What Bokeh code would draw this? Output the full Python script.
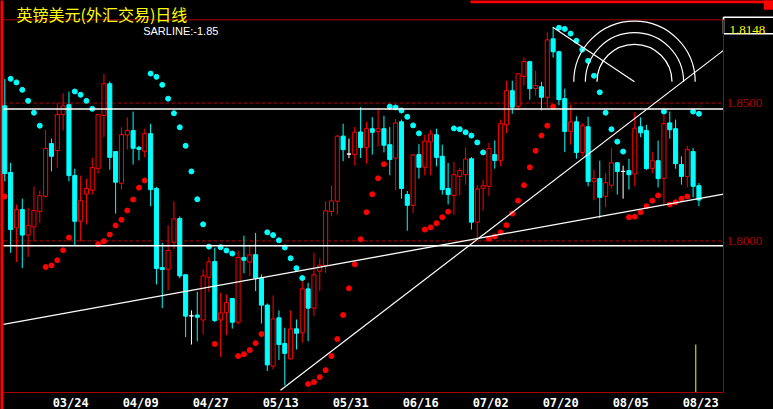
import math
from bokeh.plotting import figure
from bokeh.models import FixedTicker, PrintfTickFormatter, Range1d
from bokeh.core.properties import value
from bokeh.embed import file_html
from bokeh.resources import INLINE

# ---------------- data ----------------
title_text = "英镑美元(外汇交易)日线"
sar_text = "SARLINE:-1.85"
last_price_text = "1.8148"

opens = [1.8490, 1.8248, 1.8047, 1.8114, 1.8021, 1.8051, 1.8107, 1.8162, 1.8353, 1.8328,
         1.8458, 1.8494, 1.8237, 1.8071, 1.8170, 1.8184, 1.8263, 1.8455, 1.8570, 1.8324,
         1.8209, 1.8384, 1.8400, 1.8339, 1.8325, 1.8389, 1.8190, 1.7903, 1.7897, 1.7995,
         1.8081, 1.7877, 1.7728, 1.7731, 1.7713, 1.7868, 1.7925, 1.7713, 1.7739, 1.7791,
         1.7705, 1.7940, 1.7923, 1.7950, 1.7865, 1.7767, 1.7546, 1.7721, 1.7628, 1.7572,
         1.7681, 1.7667, 1.7826, 1.7756, 1.7890, 1.7911, 1.8107, 1.8144, 1.8380, 1.8315,
         1.8313, 1.8395, 1.8339, 1.8407, 1.8397, 1.8407, 1.8349, 1.8300, 1.8432, 1.8168,
         1.8129, 1.8313, 1.8267, 1.8359, 1.8385, 1.8307, 1.8190, 1.8165, 1.8234, 1.8240,
         1.8298, 1.8068, 1.8191, 1.8198, 1.8313, 1.8292, 1.8421, 1.8545, 1.8488, 1.8597,
         1.8650, 1.8553, 1.8559, 1.8521, 1.8733, 1.8686, 1.8516, 1.8397, 1.8432, 1.8321,
         1.8414, 1.8216, 1.8226, 1.8162, 1.8202, 1.8283, 1.8252, 1.8255, 1.8243, 1.8414,
         1.8400, 1.8263, 1.8291, 1.8227, 1.8428, 1.8407, 1.8277, 1.8234, 1.8324, 1.8200]
highs = [1.8588, 1.8283, 1.8132, 1.8153, 1.8120, 1.8198, 1.8182, 1.8403, 1.8371, 1.8500,
         1.8536, 1.8542, 1.8262, 1.8237, 1.8226, 1.8302, 1.8460, 1.8606, 1.8578, 1.8325,
         1.8412, 1.8448, 1.8469, 1.8345, 1.8407, 1.8425, 1.8196, 1.7993, 1.8056, 1.8143,
         1.8089, 1.7880, 1.7748, 1.7816, 1.7896, 1.7942, 1.7975, 1.7812, 1.7806, 1.7793,
         1.7965, 1.8019, 1.7984, 1.8029, 1.7878, 1.7773, 1.7802, 1.7748, 1.7685, 1.7748,
         1.7715, 1.7854, 1.7848, 1.7957, 1.7936, 1.8144, 1.8200, 1.8385, 1.8425, 1.8371,
         1.8413, 1.8485, 1.8432, 1.8449, 1.8476, 1.8454, 1.8413, 1.8442, 1.8440, 1.8181,
         1.8315, 1.8351, 1.8385, 1.8403, 1.8407, 1.8349, 1.8283, 1.8286, 1.8264, 1.8338,
         1.8304, 1.8202, 1.8222, 1.8355, 1.8364, 1.8440, 1.8581, 1.8581, 1.8609, 1.8665,
         1.8653, 1.8617, 1.8577, 1.8757, 1.8775, 1.8690, 1.8552, 1.8494, 1.8452, 1.8428,
         1.8450, 1.8258, 1.8291, 1.8246, 1.8337, 1.8286, 1.8273, 1.8298, 1.8467, 1.8448,
         1.8421, 1.8324, 1.8364, 1.8457, 1.8469, 1.8440, 1.8307, 1.8345, 1.8337, 1.8210]
lows = [1.8216, 1.7957, 1.7923, 1.7902, 1.7942, 1.7999, 1.8065, 1.8156, 1.8252, 1.8264,
        1.8401, 1.8216, 1.7983, 1.7999, 1.8059, 1.8168, 1.8244, 1.8376, 1.8258, 1.8099,
        1.8186, 1.8331, 1.8277, 1.8292, 1.8303, 1.8126, 1.7842, 1.7756, 1.7821, 1.7969,
        1.7864, 1.7651, 1.7624, 1.7636, 1.7661, 1.7814, 1.7705, 1.7579, 1.7658, 1.7682,
        1.7697, 1.7882, 1.7872, 1.7818, 1.7700, 1.7528, 1.7534, 1.7568, 1.7476, 1.7570,
        1.7606, 1.7630, 1.7636, 1.7727, 1.7818, 1.7884, 1.8089, 1.8095, 1.8289, 1.8300,
        1.8274, 1.8301, 1.8280, 1.8313, 1.8343, 1.8321, 1.8238, 1.8184, 1.8153, 1.8037,
        1.8101, 1.8226, 1.8238, 1.8238, 1.8271, 1.8168, 1.8132, 1.8095, 1.8165, 1.8204,
        1.8041, 1.8005, 1.8110, 1.8162, 1.8262, 1.8271, 1.8391, 1.8461, 1.8476, 1.8564,
        1.8512, 1.8527, 1.8473, 1.8482, 1.8665, 1.8492, 1.8322, 1.8349, 1.8298, 1.8307,
        1.8198, 1.8147, 1.8082, 1.8122, 1.8192, 1.8168, 1.8153, 1.8186, 1.8198, 1.8376,
        1.8258, 1.8245, 1.8194, 1.8134, 1.8371, 1.8262, 1.8204, 1.8194, 1.8158, 1.8126]
closes = [1.8244, 1.8041, 1.8114, 1.8021, 1.8056, 1.8110, 1.8164, 1.8335, 1.8307, 1.8458,
          1.8490, 1.8237, 1.8071, 1.8146, 1.8190, 1.8266, 1.8458, 1.8570, 1.8303, 1.8213,
          1.8385, 1.8400, 1.8336, 1.8332, 1.8389, 1.8186, 1.7900, 1.7896, 1.7965, 1.8080,
          1.7873, 1.7727, 1.7728, 1.7723, 1.7873, 1.7924, 1.7711, 1.7739, 1.7777, 1.7705,
          1.7940, 1.7930, 1.7949, 1.7865, 1.7767, 1.7550, 1.7717, 1.7624, 1.7592, 1.7681,
          1.7665, 1.7826, 1.7756, 1.7877, 1.7912, 1.8109, 1.8145, 1.8380, 1.8331, 1.8315,
          1.8395, 1.8339, 1.8407, 1.8394, 1.8407, 1.8347, 1.8295, 1.8428, 1.8190, 1.8129,
          1.8312, 1.8267, 1.8362, 1.8388, 1.8303, 1.8186, 1.8168, 1.8240, 1.8255, 1.8297,
          1.8068, 1.8188, 1.8200, 1.8335, 1.8292, 1.8425, 1.8545, 1.8485, 1.8606, 1.8650,
          1.8552, 1.8563, 1.8521, 1.8729, 1.8686, 1.8512, 1.8397, 1.8432, 1.8321, 1.8418,
          1.8215, 1.8226, 1.8158, 1.8211, 1.8283, 1.8252, 1.8252, 1.8240, 1.8409, 1.8392,
          1.8262, 1.8291, 1.8226, 1.8425, 1.8403, 1.8280, 1.8234, 1.8331, 1.8198, 1.8148]
sar = [1.8161, 1.8588, 1.8575, 1.8548, 1.8508, 1.8465, 1.8418, 1.7905, 1.7911, 1.7930,
       1.7966, 1.8012, 1.8542, 1.8530, 1.8508, 1.8479, 1.7988, 1.7999, 1.8023, 1.8056,
       1.8077, 1.8110, 1.8150, 1.8193, 1.8219, 1.8607, 1.8595, 1.8566, 1.8516, 1.8463,
       1.8412, 1.8345, 1.8252, 1.8151, 1.8060, 1.7979, 1.7626, 1.7977, 1.7965, 1.7954,
       1.7582, 1.7589, 1.7604, 1.7629, 1.7662, 1.8031, 1.8021, 1.8002, 1.7976, 1.7937,
       1.7901, 1.7865, 1.7481, 1.7488, 1.7506, 1.7531, 1.7582, 1.7644, 1.7731, 1.7828,
       1.7915, 1.8006, 1.8104, 1.8169, 1.8227, 1.8278, 1.8487, 1.8484, 1.8473, 1.8450,
       1.8419, 1.8390, 1.8041, 1.8049, 1.8064, 1.8086, 1.8106, 1.8408, 1.8405, 1.8394,
       1.8382, 1.8357, 1.8321, 1.8008, 1.8016, 1.8031, 1.8057, 1.8099, 1.8146, 1.8202,
       1.8267, 1.8327, 1.8382, 1.8418, 1.8487, 1.8773, 1.8769, 1.8752, 1.8726, 1.8694,
       1.8653, 1.8599, 1.8539, 1.8465, 1.8405, 1.8360, 1.8324, 1.8086, 1.8088, 1.8104,
       1.8126, 1.8146, 1.8165, 1.8469, 1.8132, 1.8140, 1.8153, 1.8161, 1.8469, 1.8461]

date_idx = [11, 23, 35, 47, 59, 71, 83, 95, 107, 119]
date_labels = ["03/24", "04/09", "04/27", "05/13", "05/31",
               "06/16", "07/02", "07/20", "08/05", "08/23"]
price_ticks = [1.80, 1.85]

# user-drawn studies (data coordinates: candle index, price)
hline_levels = [1.8478, 1.7982]
support_x = [-0.22, 123.21]
support_y = [1.7697, 1.8170]
steep_x = [47.27, 123.21]
steep_y = [1.7458, 1.8691]
arc_base_x = [93.95, 107.95]
arc_base_y = [1.8775, 1.8577]
arc_fracs = [0.382, 0.5, 0.618]
marker_x = [118.46]
marker_top = [1.7624]

# ---------------- geometry ----------------
W, H = 773, 409
PX_L, PX_R, PX_T, PX_B = 3, 723, 19.3, 392   # price panel box in canvas pixels
X0, X1 = -0.22, 123.21                        # candle index at panel left/right
Y0, Y1 = 1.7450, 1.8802                       # price at panel bottom/top
ux = (X1 - X0) / (PX_R - PX_L)
uy = (Y1 - Y0) / (PX_B - PX_T)


def cx(px):
    return X0 + (px - PX_L) * ux


def cy(py):
    return Y0 + (PX_B - py) * uy


CYAN = "#00FFFF"
RED = "#FF0000"
DKRED = "#A80000"

p = figure(width=W, height=H, output_backend="svg", toolbar_location=None,
           x_range=Range1d(cx(0), cx(W)), y_range=Range1d(cy(H), cy(0)),
           y_axis_location="right",
           background_fill_color="black", border_fill_color="black",
           min_border=0, min_border_left=0, min_border_right=0,
           min_border_top=0, min_border_bottom=0)
p.outline_line_color = None
p.xgrid.visible = False
p.ygrid.visible = False

xticks = [round(i + 0.3, 2) for i in date_idx]
xa = p.xaxis[0]
xa.fixed_location = Y0
xa.bounds = (X0, X1)
xa.ticker = FixedTicker(ticks=xticks)
xa.major_label_overrides = {t: lab for t, lab in zip(xticks, date_labels)}
xa.axis_line_color = DKRED
xa.axis_line_width = 1
xa.major_tick_line_color = None
xa.minor_tick_line_color = None
xa.major_tick_out = 0
xa.major_tick_in = 0
xa.major_label_standoff = 3
xa.major_label_text_color = "white"
xa.major_label_text_font = "DejaVu Sans Mono"
xa.major_label_text_font_style = "bold"
xa.major_label_text_font_size = "12px"

ya = p.yaxis[0]
ya.fixed_location = X1
ya.bounds = (Y0, Y1)
ya.ticker = FixedTicker(ticks=price_ticks)
ya.formatter = PrintfTickFormatter(format="%.4f")
ya.axis_line_color = DKRED
ya.axis_line_width = 1
ya.major_tick_line_color = None
ya.minor_tick_line_color = None
ya.major_tick_out = 0
ya.major_tick_in = 0
ya.major_label_standoff = 3
ya.major_label_text_color = "#B40000"
ya.major_label_text_font = "Liberation Sans Narrow"
ya.major_label_text_font_size = "13px"

# dashed price grid, limited to the price panel
p.segment(x0=[X0] * len(price_ticks), y0=price_ticks, x1=[X1] * len(price_ticks),
          y1=price_ticks, line_color="#B00000", line_width=1, line_dash="4 2")

# ---------------- frame decorations ----------------
p.segment(x0=[X0], y0=[Y1], x1=[X1], y1=[Y1], line_color=DKRED, line_width=1)
p.quad(left=[cx(-2), cx(470), cx(763.3)], right=[cx(2.8), cx(775), cx(775)],
       top=[cy(-2), cy(-2), cy(-2)], bottom=[cy(411), cy(2.7), cy(9.3)],
       fill_color=RED, line_color=None)
p.quad(left=[cx(723)], right=[cx(780)], top=[cy(16.7)], bottom=[cy(33.3)],
       fill_color="black", line_color="white", line_width=1.6)
p.text(x=[cx(729)], y=[cy(29.5)], text=[last_price_text], text_color="yellow",
       text_font=value("Liberation Sans Narrow"), text_font_size=value("13px"),
       text_align="left", text_baseline="alphabetic")
p.text(x=[cx(16)], y=[cy(13.5)], text=[title_text], text_color="yellow",
       text_font=value("Noto Sans CJK SC"), text_font_size=value("16px"),
       text_align="left", text_baseline="alphabetic")
p.text(x=[cx(142.7)], y=[cy(30)], text=[sar_text], text_color="white",
       text_font=value("Liberation Sans"), text_font_size=value("11px"),
       text_align="left", text_baseline="alphabetic")

# ---------------- candles ----------------
xs = list(range(len(opens)))
body_top = [max(o, c) for o, c in zip(opens, closes)]
body_bot = [min(o, c) for o, c in zip(opens, closes)]
line_col = [RED if c > o else (CYAN if c < o else "white") for o, c in zip(opens, closes)]
fill_col = ["black" if c > o else (CYAN if c < o else "white") for o, c in zip(opens, closes)]

p.segment(x0=xs, y0=highs, x1=xs, y1=lows, line_color=line_col, line_width=1)
p.vbar(x=xs, width=0.7, top=body_top, bottom=body_bot,
       fill_color=fill_col, line_color=line_col, line_width=1)

# SAR dots
sar_col = [RED if s < c else CYAN for s, c in zip(sar, closes)]
p.scatter(x=xs, y=sar, size=5, marker="circle", fill_color=sar_col, line_color=sar_col)

# ---------------- drawn studies ----------------
p.segment(x0=[X0] * len(hline_levels), y0=hline_levels, x1=[X1] * len(hline_levels),
          y1=hline_levels, line_color="white", line_width=1.5)
p.line(support_x, support_y, line_color="white", line_width=1.3)
p.line(steep_x, steep_y, line_color="white", line_width=1.2)
p.line(arc_base_x, arc_base_y, line_color="white", line_width=1.2)

dx_px = (arc_base_x[1] - arc_base_x[0]) / ux
dy_px = (arc_base_y[1] - arc_base_y[0]) / uy
base_len = math.hypot(dx_px, dy_px)
radii = [f * base_len for f in arc_fracs]
p.arc(x=[arc_base_x[1]] * 3, y=[arc_base_y[1]] * 3, radius=radii, radius_units="screen",
      start_angle=0, end_angle=math.pi, line_color="white", line_width=1.2)

p.segment(x0=marker_x, y0=[Y0], x1=marker_x, y1=marker_top, line_color="yellow", line_width=1)

html = file_html(p, INLINE, title="GBPUSD")
html = html.replace("<head>", "<head><style>html,body{margin:0;padding:0;background:#000;overflow:hidden}</style>", 1)
open("out.html", "w").write(html)
